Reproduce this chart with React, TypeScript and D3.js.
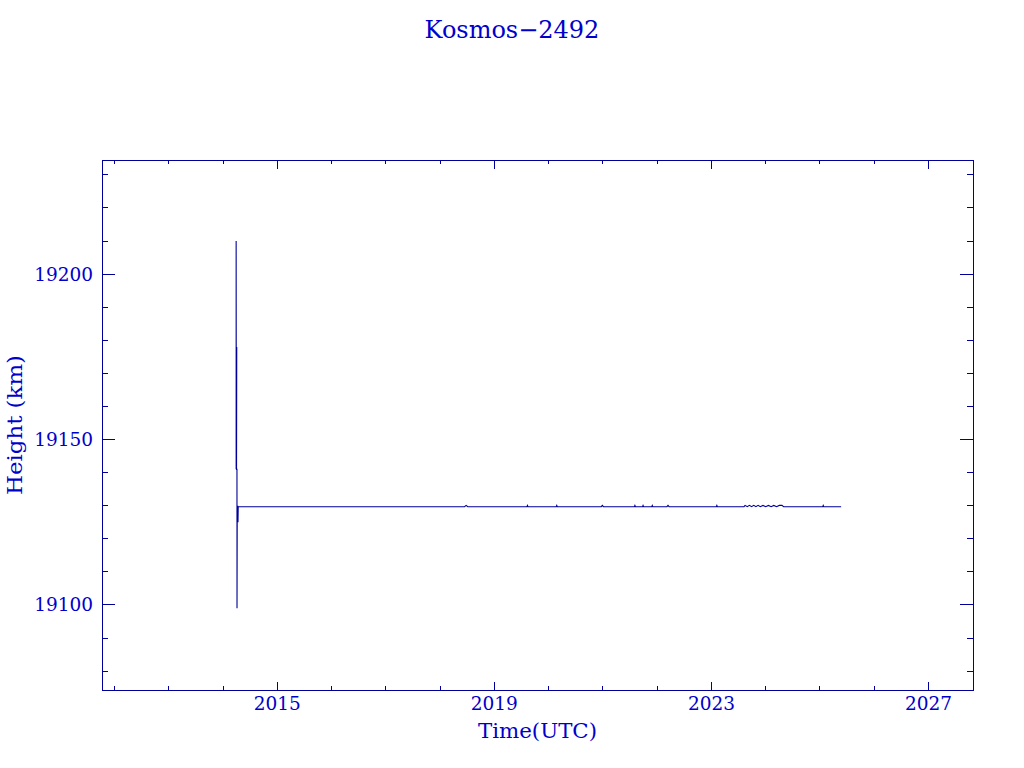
import React from "react";
import * as d3 from "d3";

const title = "Kosmos\u22122492";
const xLabel = "Time(UTC)";
const yLabel = "Height (km)";

const xMajorTicks = [2015, 2019, 2023, 2027];
const xMinorTicks = [2012, 2013, 2014, 2015, 2016, 2017, 2018, 2019, 2020, 2021, 2022, 2023, 2024, 2025, 2026, 2027];
const yMajorTicks = [19100, 19150, 19200];
const yMinorTicks = [19080, 19090, 19100, 19110, 19120, 19130, 19140, 19150, 19160, 19170, 19180, 19190, 19200, 19210, 19220, 19230];

const times = [
  2014.242, 2014.242, 2014.245, 2014.25, 2014.247, 2014.252, 2014.248, 2014.253, 2014.249,
  2014.257, 2014.258, 2014.262, 2014.266, 2014.268, 2014.271, 2014.273, 2014.276, 2014.28,
  2018.45, 2018.48, 2018.51,
  2019.6, 2019.61, 2019.62,
  2020.14, 2020.15, 2020.16,
  2020.97, 2020.99, 2021.01,
  2021.58, 2021.59, 2021.6,
  2021.73, 2021.74, 2021.75,
  2021.9, 2021.91, 2021.92,
  2022.18, 2022.2, 2022.22,
  2023.09, 2023.1, 2023.11,
  2023.6, 2023.62, 2023.66, 2023.7, 2023.74, 2023.78, 2023.82, 2023.86, 2023.9, 2023.95,
  2024.0, 2024.05, 2024.1, 2024.15, 2024.2, 2024.25, 2024.3, 2024.33,
  2025.05, 2025.06, 2025.07,
  2025.39,
];
const heights = [
  19141, 19210, 19141, 19178, 19141, 19178, 19141, 19178, 19141,
  19141, 19099, 19130, 19125, 19130, 19125, 19130, 19125, 19129.7,
  19129.7, 19130.1, 19129.7,
  19129.7, 19130.1, 19129.7,
  19129.7, 19130.1, 19129.7,
  19129.7, 19130.1, 19129.7,
  19129.7, 19130.1, 19129.7,
  19129.7, 19130.1, 19129.7,
  19129.7, 19130.1, 19129.7,
  19129.7, 19130.1, 19129.7,
  19129.7, 19130.1, 19129.7,
  19129.7, 19130.1, 19129.7, 19130.1, 19129.7, 19130.1, 19129.7, 19130.1, 19129.7, 19130.1,
  19129.7, 19130.1, 19129.7, 19130.1, 19129.7, 19130.1, 19130.1, 19129.7,
  19129.7, 19130.1, 19129.7,
  19129.7,
];

const LINE = "#000099";
const TEXT = "#0000cc";
const FONT = "'DejaVu Serif', serif";

export default function App() {
  const L = 102, R = 973, T = 160, B = 690;
  const x = d3.scaleLinear().domain([2011.77, 2027.82]).range([L, R]);
  const y = d3.scaleLinear().domain([19074.3, 19234.5]).range([B, T]);
  const pts: [number, number][] = times.map((t, i) => [t, heights[i]]);
  const line = d3
    .line<[number, number]>()
    .x((d) => x(d[0]))
    .y((d) => y(d[1]));

  const xMajLen = 8.5, xMinLen = 4, yMajLen = 13, yMinLen = 6;

  return (
    <svg
      width={1024}
      height={768}
      style={{ position: "absolute", left: 0, top: 0, display: "block", background: "#fff" }}
    >
      <rect x={0} y={0} width={1024} height={768} fill="#fff" />
      <text x={512} y={38} textAnchor="middle" fill={TEXT} fontFamily={FONT} fontSize={24}>
        {title}
      </text>
      <g stroke={LINE} strokeWidth={1} shapeRendering="crispEdges" fill="none">
        <rect x={L} y={T} width={R - L} height={B - T} />
        {xMinorTicks.map((t) => (
          <g key={"xm" + t}>
            <line x1={x(t)} x2={x(t)} y1={B} y2={B - xMinLen} />
            <line x1={x(t)} x2={x(t)} y1={T} y2={T + xMinLen} />
          </g>
        ))}
        {xMajorTicks.map((t) => (
          <g key={"xM" + t}>
            <line x1={x(t)} x2={x(t)} y1={B} y2={B - xMajLen} />
            <line x1={x(t)} x2={x(t)} y1={T} y2={T + xMajLen} />
          </g>
        ))}
        {yMinorTicks.map((v) => (
          <g key={"ym" + v}>
            <line x1={L} x2={L + yMinLen} y1={y(v)} y2={y(v)} />
            <line x1={R} x2={R - yMinLen} y1={y(v)} y2={y(v)} />
          </g>
        ))}
        {yMajorTicks.map((v) => (
          <g key={"yM" + v}>
            <line x1={L} x2={L + yMajLen} y1={y(v)} y2={y(v)} />
            <line x1={R} x2={R - yMajLen} y1={y(v)} y2={y(v)} />
          </g>
        ))}
      </g>
      <path d={line(pts) || ""} fill="none" stroke={LINE} strokeWidth={1.1} />
      <g fill={TEXT} fontFamily={FONT} fontSize={18.5}>
        {xMajorTicks.map((t) => (
          <text key={"xl" + t} x={x(t)} y={710} textAnchor="middle">
            {String(t)}
          </text>
        ))}
        {yMajorTicks.map((v) => (
          <text key={"yl" + v} x={93} y={y(v) + 6.5} textAnchor="end">
            {String(v)}
          </text>
        ))}
        <text
          x={(L + R) / 2}
          y={738}
          textAnchor="middle"
          fontSize={20}
          textLength={119}
          lengthAdjust="spacingAndGlyphs"
        >
          {xLabel}
        </text>
        <text
          transform={`translate(22, ${(T + B) / 2}) rotate(-90)`}
          textAnchor="middle"
          fontSize={20}
          textLength={140}
          lengthAdjust="spacingAndGlyphs"
        >
          {yLabel}
        </text>
      </g>
    </svg>
  );
}
